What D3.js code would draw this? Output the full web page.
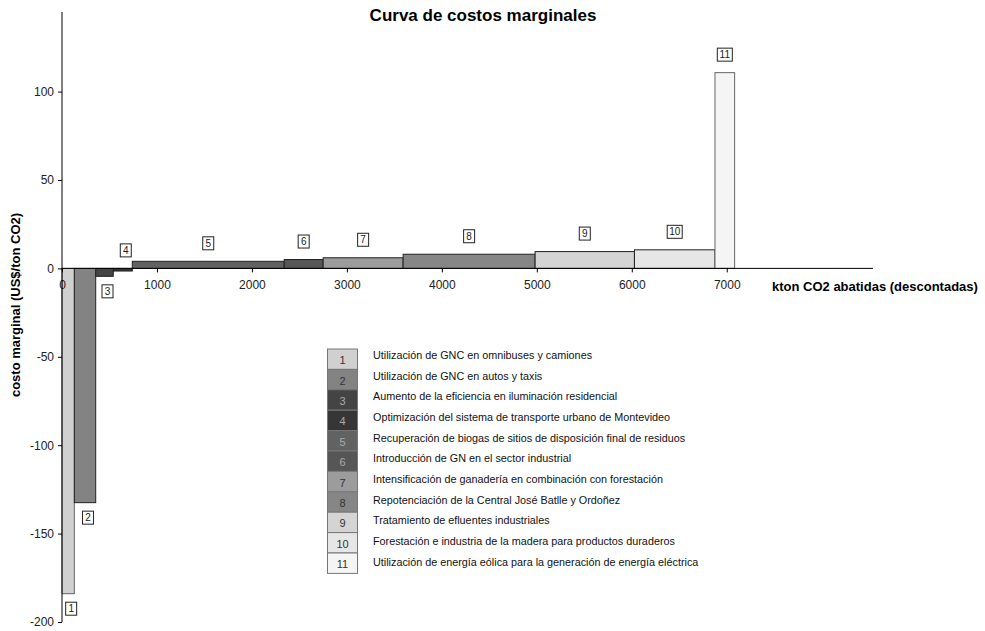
<!DOCTYPE html>
<html>
<head>
<meta charset="utf-8">
<script src="https://cdn.jsdelivr.net/npm/d3@7"></script>
<style>
  html, body { margin: 0; padding: 0; background: #fff; }
  svg { display: block; }
  text { font-family: "Liberation Sans", Arial, sans-serif; }
</style>
</head>
<body>
<svg id="chart" width="985" height="631"></svg>
<script>
// Medidas de mitigación, en orden de costo marginal creciente
const measureIds = ["1", "2", "3", "4", "5", "6", "7", "8", "9", "10", "11"];
const measureNames = [
  "Utilización de GNC en omnibuses y camiones",
  "Utilización de GNC en autos y taxis",
  "Aumento de la eficiencia en iluminación residencial",
  "Optimización del sistema de transporte urbano de Montevideo",
  "Recuperación de biogas de sitios de disposición final de residuos",
  "Introducción de GN en el sector industrial",
  "Intensificación de ganadería en combinación con forestación",
  "Repotenciación de la Central José Batlle y Ordoñez",
  "Tratamiento de efluentes industriales",
  "Forestación e industria de la madera para productos duraderos",
  "Utilización de energía eólica para la generación de energía eléctrica"
];
// kton CO2 abatidas (descontadas) por medida
const abatement = [130, 225, 185, 200, 1600, 410, 842, 1390, 1046, 848, 207];
// costo marginal, US$/ton CO2
const marginalCost = [-184, -132.5, -4.5, -1.5, 4, 5, 6, 8, 9.5, 10.5, 110.7];
// tonos de gris de cada medida
const fills = ["#d0d0d0", "#838383", "#444444", "#363636", "#626262", "#565656",
               "#9c9c9c", "#868686", "#d4d4d4", "#e6e6e6", "#f5f5f5"];

const xTicks = [0, 1000, 2000, 3000, 4000, 5000, 6000, 7000];
const yTicks = [-200, -150, -100, -50, 0, 50, 100];

const svg = d3.select("#chart");

const x = d3.scaleLinear().domain([0, 8540]).range([62, 873]);
const y = d3.scaleLinear().domain([-200, 145]).range([622, 12]);

// posición acumulada de cada escalón
let acc = 0;
const steps = abatement.map((w, i) => {
  const s = { id: measureIds[i], x0: acc, x1: acc + w, v: marginalCost[i], fill: fills[i] };
  acc += w;
  return s;
});

// título
svg.append("text")
  .attr("x", 483).attr("y", 21)
  .attr("text-anchor", "middle")
  .attr("font-size", 17).attr("font-weight", "bold")
  .attr("fill", "#000")
  .text("Curva de costos marginales");

// escalones
svg.append("g").selectAll("rect")
  .data(steps)
  .join("rect")
  .attr("x", d => x(d.x0))
  .attr("width", d => x(d.x1) - x(d.x0))
  .attr("y", d => y(Math.max(0, d.v)))
  .attr("height", d => Math.abs(y(d.v) - y(0)))
  .attr("fill", d => d.fill)
  .attr("stroke", (d, i) => (i === 0 || i === steps.length - 1) ? "#666" : "#222")
  .attr("stroke-width", 1);

const plain = d => String(d);

// eje y
const yAxis = svg.append("g")
  .attr("transform", `translate(${x(0)},0)`)
  .call(d3.axisLeft(y).tickValues(yTicks).tickSize(4).tickPadding(4).tickFormat(plain));
yAxis.select(".domain").attr("d", `M0,${y(145)}V${y(-200)}`).attr("stroke", "#000");
yAxis.selectAll(".tick line").attr("stroke", "#000");
yAxis.selectAll(".tick text")
  .attr("font-family", "Liberation Sans, Arial, sans-serif")
  .attr("font-size", 12).attr("fill", "#222");

// eje x, sobre la línea de costo cero
const xAxis = svg.append("g")
  .attr("transform", `translate(0,${y(0)})`)
  .call(d3.axisBottom(x).tickValues(xTicks).tickSize(4).tickPadding(8).tickFormat(plain));
xAxis.select(".domain").attr("d", `M${x(0)},0H${x(8540)}`).attr("stroke", "#000");
xAxis.selectAll(".tick line").attr("stroke", "#000");
xAxis.selectAll(".tick text")
  .attr("font-family", "Liberation Sans, Arial, sans-serif")
  .attr("font-size", 12).attr("fill", "#222");
// el eje y se dibuja por encima de la etiqueta 0
yAxis.raise();

// títulos de ejes
svg.append("text")
  .attr("x", 772).attr("y", 291)
  .attr("font-size", 13).attr("font-weight", "bold")
  .text("kton CO2 abatidas (descontadas)");
svg.append("text")
  .attr("transform", "translate(20,305) rotate(-90)")
  .attr("text-anchor", "middle")
  .attr("font-size", 13).attr("font-weight", "bold")
  .text("costo marginal (US$/ton CO2)");

// rótulos numerados de cada escalón
const labels = svg.append("g").selectAll("g")
  .data(steps)
  .join("g")
  .attr("transform", d => {
    const cx = (x(d.x0) + x(d.x1)) / 2 + (d.v < 0 ? 3 : 0);
    let cy;
    if (d.v >= 0 || Math.abs(d.v) < 2) cy = y(Math.max(0, d.v)) - 18;
    else cy = y(d.v) + 15;
    return `translate(${cx},${cy})`;
  });
labels.append("rect")
  .attr("x", d => d.id.length > 1 ? -7.5 : -5.5)
  .attr("y", -6.5)
  .attr("width", d => d.id.length > 1 ? 15 : 11)
  .attr("height", 13)
  .attr("fill", "#fff")
  .attr("stroke", "#222");
labels.append("text")
  .attr("text-anchor", "middle")
  .attr("dy", "0.36em")
  .attr("font-size", 10)
  .attr("fill", "#222")
  .text(d => d.id);

// leyenda
const legendTop = 349, rowH = 20.4;
const legend = svg.append("g");
legend.selectAll("rect")
  .data(steps)
  .join("rect")
  .attr("x", 327.5)
  .attr("y", (d, i) => legendTop + i * rowH)
  .attr("width", 30)
  .attr("height", rowH)
  .attr("fill", d => d.fill)
  .attr("stroke", "#777");
legend.selectAll("text.num")
  .data(steps)
  .join("text")
  .attr("class", "num")
  .attr("x", 342.5)
  .attr("y", (d, i) => legendTop + (i + 0.5) * rowH + 1)
  .attr("dy", "0.36em")
  .attr("text-anchor", "middle")
  .attr("font-size", 11)
  .attr("fill", d => d3.hsl(d.fill).l < 0.45 ? "#aaa" : "#333")
  .text(d => d.id);
legend.selectAll("text.name")
  .data(measureNames)
  .join("text")
  .attr("class", "name")
  .attr("x", 373)
  .attr("y", (d, i) => 355 + i * 20.7)
  .attr("dy", "0.36em")
  .attr("font-size", 10.8)
  .attr("fill", "#111")
  .text(d => d);
</script>
</body>
</html>
